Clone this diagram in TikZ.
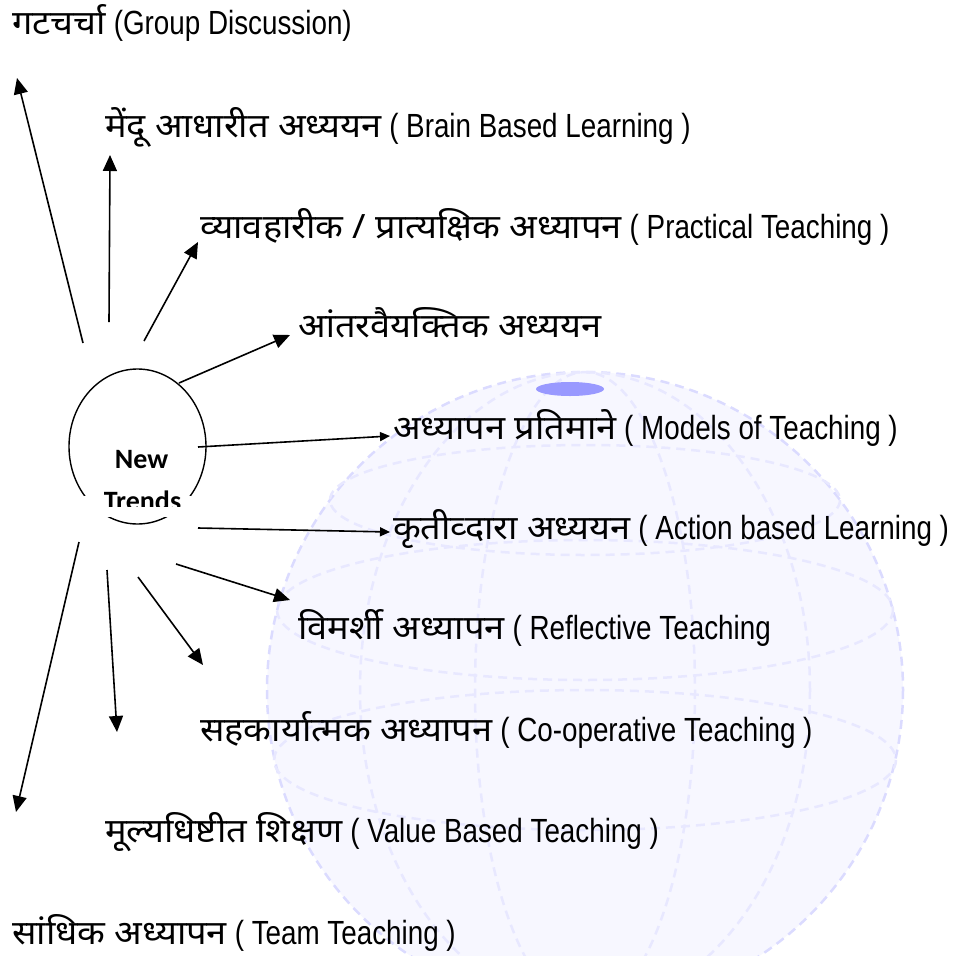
\documentclass[tikz,border=0pt]{standalone}
\usepackage{fontspec}
\setmainfont{Liberation Sans}[FakeStretch=0.83]
\newfontfamily\devfont{Noto Sans}[Script=Devanagari, FakeStretch=1.08]
\newfontfamily\boxfont{Carlito}
\usetikzlibrary{arrows.meta,shapes.geometric}

\tikzset{
  trend/.style={anchor=base west, inner sep=0pt, font=\fontsize{33.5}{38}\selectfont},
  trendarrow/.style={-{Triangle[length=16pt,width=14pt]}, line width=1.6pt},
  shortarrow/.style={-{Triangle[length=10pt,width=9pt]}, line width=1.6pt},
  globeline/.style={blue!9, line width=2.5pt, dash pattern=on 9pt off 6pt},
}

\begin{document}
\begin{tikzpicture}[x=1pt, y=-1pt]
\useasboundingbox (0,0) rectangle (959,956);

% faint globe behind the labels
\begin{scope}
  \clip (0,0) rectangle (959,956);
  \fill[blue!3] (585,690) circle[radius=318];
  \draw[globeline, blue!14] (585,690) circle[radius=318];
  \draw[globeline] (585,690) ellipse[x radius=110, y radius=318];
  \draw[globeline] (585,690) ellipse[x radius=225, y radius=318];
  \draw[globeline] (585,500) ellipse[x radius=255, y radius=55];
  \draw[globeline] (585,610) ellipse[x radius=308, y radius=70];
  \draw[globeline] (585,760) ellipse[x radius=311, y radius=70];
  \fill[blue!40] (570,389) ellipse[x radius=34, y radius=7];
\end{scope}

% centre
\node (nt) [draw, ellipse, line width=1.4pt, minimum width=137pt, minimum height=155pt] at (137.5,446.5) {};
\fill[white] (78,496) rectangle (198,517);
\begin{scope}
  \clip (0,0) rectangle (959,506);
  \node (ntnew) [anchor=base, inner sep=0pt, font=\boxfont\bfseries\fontsize{28}{30}\selectfont] at (141.5,468) {New};
  \node (ntrends) [anchor=base, inner sep=0pt, font=\boxfont\bfseries\fontsize{28}{30}\selectfont] at (142.5,510) {Trends};
\end{scope}

% labels
\node[trend] (group) at (12,34) {{\devfont गटचर्चा} (Group Discussion)};
\node[trend] (brain) at (105,137) {{\devfont मेंदू आधारीत अध्ययन} ( Brain Based Learning )};
\node[trend] (pract) at (200,238) {{\devfont व्यावहारीक / प्रात्यक्षिक अध्यापन} ( Practical Teaching )};
\node[trend] (inter) at (298,337) {{\devfont आंतरवैयक्तिक अध्ययन}};
\node[trend] (models) at (393,439) {{\devfont अध्यापन प्रतिमाने} ( Models of Teaching )};
\node[trend] (action) at (393,539) {{\devfont कृतीव्दारा अध्ययन} ( Action based Learning )};
\node[trend] (refl) at (298,639) {{\devfont विमर्शी अध्यापन} ( Reflective Teaching};
\node[trend] (coop) at (200,741) {{\devfont सहकार्यात्मक अध्यापन} ( Co-operative Teaching )};
\node[trend] (value) at (105,842) {{\devfont मूल्यधिष्टीत शिक्षण} ( Value Based Teaching )};
\node[trend] (team) at (12,944) {{\devfont सांधिक अध्यापन} ( Team Teaching )};

% arrow ends
\coordinate (groupt) at (83,343);   \coordinate (grouph) at (17,78);
\coordinate (braint) at (109,322);  \coordinate (brainh) at (110,155);
\coordinate (practt) at (144,341);  \coordinate (practh) at (198,242);
\coordinate (intert) at (179,383);  \coordinate (interh) at (290,335);
\coordinate (modelst) at (198,447); \coordinate (modelsh) at (390,436);
\coordinate (actiont) at (198,528); \coordinate (actionh) at (390,532);
\coordinate (reflt) at (176,564);   \coordinate (reflh) at (290,600);
\coordinate (coopt) at (138,577);   \coordinate (cooph) at (203,665);
\coordinate (valuet) at (107,570);  \coordinate (valueh) at (117,732);
\coordinate (teamt) at (79,542);    \coordinate (teamh) at (16,812);

\draw[trendarrow] (groupt) -- (grouph);
\draw[trendarrow] (braint) -- (brainh);
\draw[trendarrow] (practt) -- (practh);
\draw[trendarrow] (intert) -- (interh);
\draw[shortarrow] (modelst) -- (modelsh);
\draw[shortarrow] (actiont) -- (actionh);
\draw[trendarrow] (reflt) -- (reflh);
\draw[trendarrow] (coopt) -- (cooph);
\draw[trendarrow] (valuet) -- (valueh);
\draw[trendarrow] (teamt) -- (teamh);
\end{tikzpicture}
\end{document}
